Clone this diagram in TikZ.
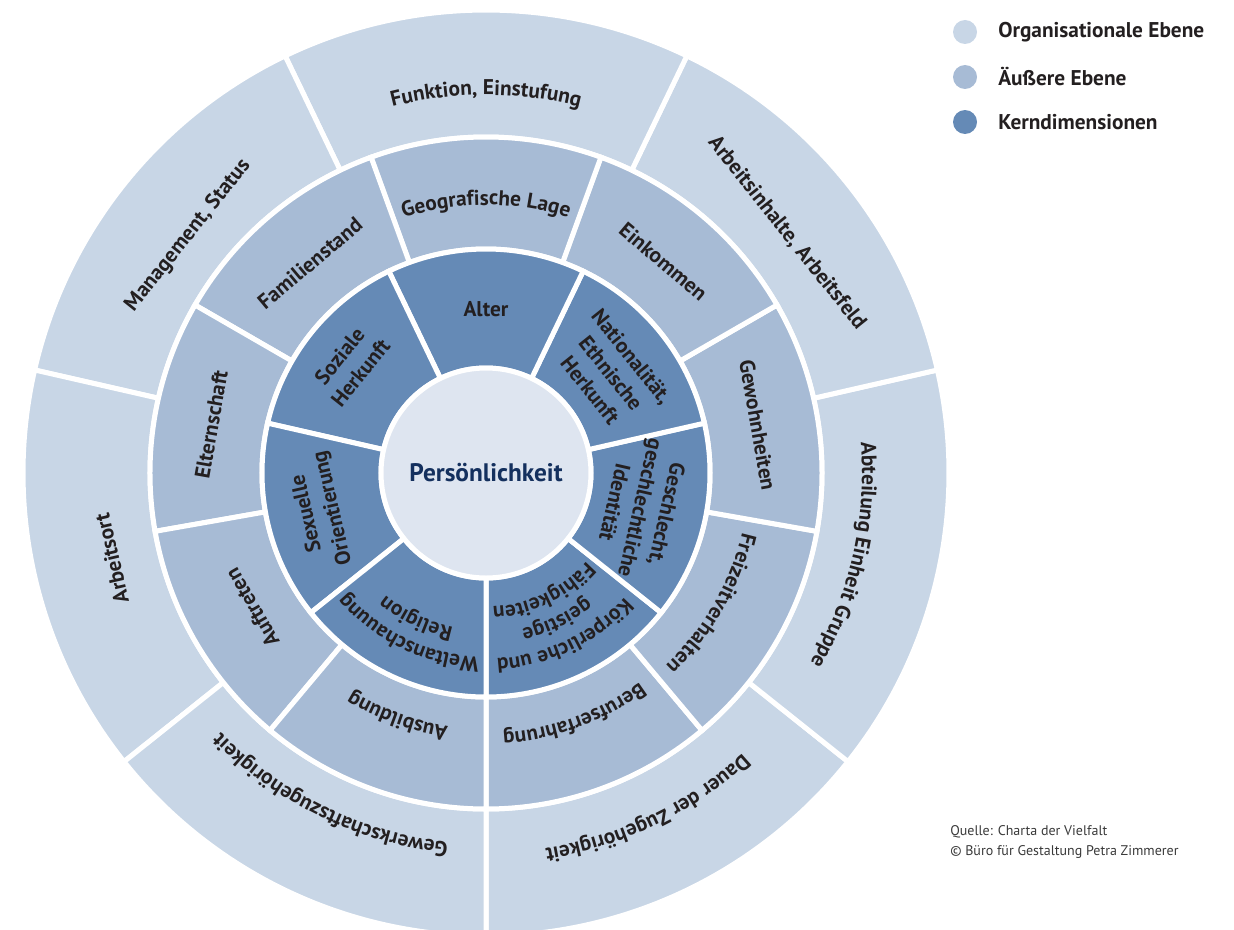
\documentclass[tikz,border=0pt]{standalone}
\usepackage{fontspec}
\setmainfont{PT Sans}
\usepackage{tikz}
\usetikzlibrary{decorations.text}

\definecolor{orgebene}{HTML}{C8D6E6}
\definecolor{aussen}{HTML}{A7BBD5}
\definecolor{kern}{HTML}{658AB6}
\definecolor{mitte}{HTML}{DEE5F0}
\definecolor{navy}{HTML}{14305E}
\definecolor{txt}{HTML}{231F20}
\definecolor{src}{HTML}{3A3A3A}

\newcommand\lblfont{\bfseries\fontsize{16}{20}\selectfont}
% text on an arc, read clockwise: mid angle, baseline radius, text
\newcommand\arclabel[3]{%
  \path[decorate,decoration={text along path,text align=center,
      text={|\lblfont\color{txt}|#3}}]
    ({#1+45}:#2) arc[start angle={#1+45},end angle={#1-45},radius=#2];}

\tikzset{
  seg/.style={draw=white,line width=3.75pt},
  lbl/.style={font=\lblfont,text=txt,align=center,inner sep=0pt},
  legend/.style={font=\bfseries\fontsize{16}{18}\selectfont,text=txt,anchor=west,inner sep=0pt}
}

\begin{document}
\begin{tikzpicture}[x=0.75pt,y=0.75pt]
  \useasboundingbox (-486,-456) rectangle (748,473);
  \clip (-486,-456) rectangle (748,473);

  % organisationale Ebene
  \foreach \k [evaluate=\k as \s using -90+\k*360/7,
               evaluate=\k as \e using -90+(\k+1)*360/7] in {0,...,6}
    \draw[seg,fill=orgebene] (\s:336) arc[start angle=\s,end angle=\e,radius=336]
      -- (\e:463) arc[start angle=\e,end angle=\s,radius=463] -- cycle;
  % aeussere Ebene
  \foreach \k [evaluate=\k as \s using -90+\k*40,
               evaluate=\k as \e using -50+\k*40] in {0,...,8}
    \draw[seg,fill=aussen] (\s:224) arc[start angle=\s,end angle=\e,radius=224]
      -- (\e:336) arc[start angle=\e,end angle=\s,radius=336] -- cycle;
  % Kerndimensionen
  \foreach \k [evaluate=\k as \s using -90+\k*360/7,
               evaluate=\k as \e using -90+(\k+1)*360/7] in {0,...,6}
    \draw[seg,fill=kern] (\s:105) arc[start angle=\s,end angle=\e,radius=105]
      -- (\e:224) arc[start angle=\e,end angle=\s,radius=224] -- cycle;
  \draw[seg,fill=mitte] (0,0) circle[radius=105];
  \node[font=\bfseries\fontsize{19}{21}\selectfont,text=navy] (pers) at (0,0) {Persönlichkeit};

  % gerade Beschriftungen
  \foreach \m/\r/\t/\n in {
      90/164/Alter/alter,
      38.571/160/{Nationalität,\\Ethnische\\Herkunft}/nation,
      -12.857/159/{Geschlecht,\\geschlechtliche\\Identität}/geschlecht,
      192.857/170/{Sexuelle\\Orientierung}/sexuell,
      141.429/174/{Soziale\\Herkunft}/sozial,
      50/276/Einkommen/einkommen,
      10/276/Gewohnheiten/gewohnheit,
      210/270/Auftreten/auftreten,
      170/279/Elternschaft/eltern,
      130/274/Familienstand/familie,
      38.571/385/{Arbeitsinhalte, Arbeitsfeld}/arbeitsinhalt,
      192.857/384/Arbeitsort/arbeitsort,
      141.429/381/{Management, Status}/management}
    \node[lbl,rotate=\m-90] (\n) at (\m:\r) {\t};

  % gebogene Beschriftungen
  \arclabel{90}{378}{Funktion, Einstufung}
  \arclabel{-12.857}{376}{Abteilung Einheit Gruppe}
  \arclabel{-64.286}{380}{Dauer der Zugehörigkeit}
  \arclabel{-115.714}{371}{Gewerkschaftszugehörigkeit}
  \arclabel{90}{268}{Geografische Lage}
  \arclabel{-30}{263}{Freizeitverhalten}
  \arclabel{-70}{260}{Berufserfahrung}
  \arclabel{-110}{256}{Ausbildung}
  \arclabel{-64.286}{186}{Körperliche und}
  \arclabel{-64.286}{160}{geistige}
  \arclabel{-64.286}{134}{Fähigkeiten}
  \arclabel{-115.714}{184}{Weltanschauung}
  \arclabel{-115.714}{158}{Religion}

  % Legende
  \foreach \y/\c/\t/\n in {441/orgebene/Organisationale Ebene/legorg,
                           396/aussen/Äußere Ebene/legaus,
                           351/kern/Kerndimensionen/legkern}{
    \fill[\c] (479,\y) circle[radius=12];
    \node[legend] (\n) at (512,\y) {\t};
  }
  \node[font=\fontsize{10.5}{15}\selectfont,text=src,align=left,
        anchor=west,inner sep=0pt] (quelle) at (464,-369)
    {Quelle: Charta der Vielfalt\\© Büro für Gestaltung Petra Zimmerer};
\end{tikzpicture}
\end{document}
